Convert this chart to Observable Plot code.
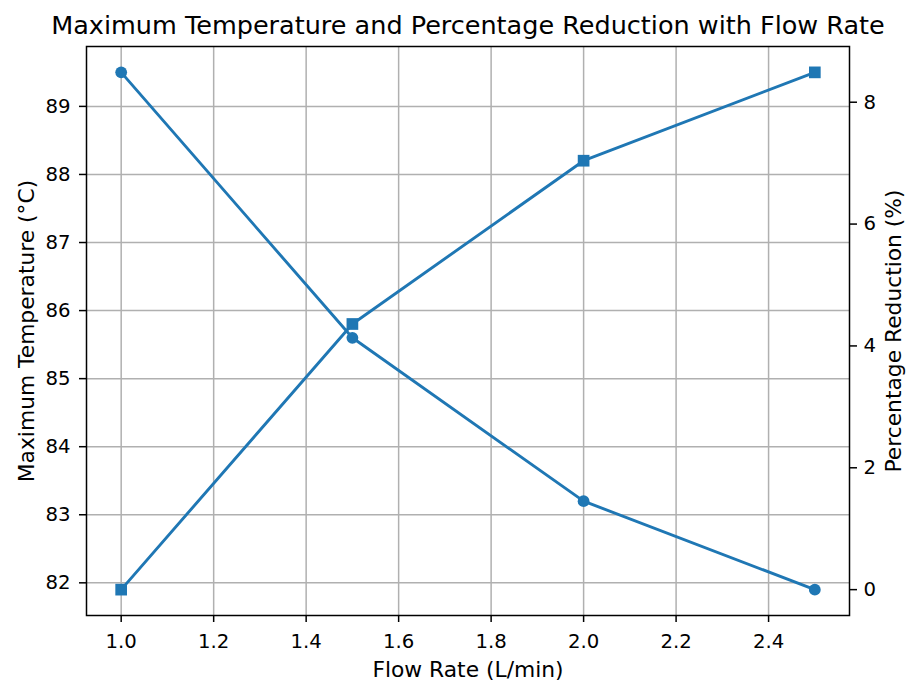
<!DOCTYPE html>
<html>
<head>
<meta charset="utf-8">
<script src="https://cdn.jsdelivr.net/npm/d3@7"></script>
<script src="https://cdn.jsdelivr.net/npm/@observablehq/plot@0.6"></script>
<style>
  html, body { margin: 0; padding: 0; background: #fff; }
  #chart { width: 908px; height: 685px; }
</style>
</head>
<body>
<div id="chart"></div>
<script>
// ---- data ----
const flowRates = [1.0, 1.5, 2.0, 2.5];               // L/min
const maxTemperature = [89.5, 85.6, 83.2, 81.9];      // °C
const percentReduction = [0, 4.36, 7.04, 8.49];       // %

const xTicks = [1.0, 1.2, 1.4, 1.6, 1.8, 2.0, 2.2, 2.4];
const leftTicks = [82, 83, 84, 85, 86, 87, 88, 89];
const rightTicks = [0, 2, 4, 6, 8];

const titleText = "Maximum Temperature and Percentage Reduction with Flow Rate";
const xLabel = "Flow Rate (L/min)";
const leftLabel = "Maximum Temperature (°C)";
const rightLabel = "Percentage Reduction (%)";

// ---- helpers ----
function padded(values) {
  const [lo, hi] = d3.extent(values);
  const m = (hi - lo) * 0.05;
  return [lo - m, hi + m];
}
const xDomain = padded(flowRates);
const tDomain = padded(maxTemperature);
const pDomain = padded(percentReduction);
// map percentage values into the temperature (left-axis) space for the twin axis
const pToT = d3.scaleLinear().domain(pDomain).range(tDomain);

const rows = flowRates.map((f, i) => ({
  flow: f,
  temp: maxTemperature[i],
  pct: percentReduction[i],
  pctT: pToT(percentReduction[i])
}));

const blue = "#1f77b4";
const fs = 19.7;
const labelFs = 21.8;
const titleFs = 25.5;

const chart = Plot.plot({
  width: 908,
  height: 685,
  marginLeft: 86,
  marginRight: 59,
  marginTop: 46,
  marginBottom: 70,
  style: { fontFamily: "DejaVu Sans", fontSize: fs + "px", color: "#000", background: "#fff" },
  x: { domain: xDomain },
  y: { domain: tDomain },
  marks: [
    Plot.gridX(xTicks, { stroke: "#b0b0b0", strokeOpacity: 1, strokeWidth: 1.5 }),
    Plot.gridY(leftTicks, { stroke: "#b0b0b0", strokeOpacity: 1, strokeWidth: 1.5 }),
    Plot.axisX(xTicks, { tickSize: 7, tickPadding: 11, strokeWidth: 1.5, tickFormat: d => d.toFixed(1), label: null, fontSize: fs }),
    Plot.axisY(leftTicks, { anchor: "left", tickSize: 7, tickPadding: 9, strokeWidth: 1.5, tickFormat: d => String(d), label: null, fontSize: fs }),
    Plot.axisY(rightTicks.map(v => pToT(v)), { anchor: "right", tickSize: 7, tickPadding: 7, strokeWidth: 1.5, tickFormat: d => String(Math.round(pToT.invert(d))), label: null, fontSize: fs }),
    // temperature series
    Plot.line(rows, { x: "flow", y: "temp", stroke: blue, strokeWidth: 2.9, strokeLinejoin: "round" }),
    Plot.dot(rows, { x: "flow", y: "temp", r: 5.9, fill: blue, stroke: "none", symbol: "circle" }),
    // percentage series (twin axis)
    Plot.line(rows, { x: "flow", y: "pctT", stroke: blue, strokeWidth: 2.9, strokeLinejoin: "round" }),
    Plot.dot(rows, { x: "flow", y: "pctT", r: 6.6, fill: blue, stroke: "none", symbol: "square" }),
    Plot.frame({ stroke: "#000", strokeWidth: 1.5 }),
    // titles / labels
    Plot.text([titleText], { frameAnchor: "top", textAnchor: "middle", lineAnchor: "bottom", dy: -12.7, fontSize: titleFs, fill: "#000" }),
    Plot.text([xLabel], { frameAnchor: "bottom", textAnchor: "middle", lineAnchor: "bottom", dy: 61.7, fontSize: labelFs, fill: "#000" }),
    Plot.text([leftLabel], { frameAnchor: "left", textAnchor: "middle", lineAnchor: "bottom", rotate: -90, dx: -53, fontSize: labelFs, fill: "#000" }),
    Plot.text([rightLabel], { frameAnchor: "right", textAnchor: "middle", lineAnchor: "bottom", rotate: -90, dx: 51, fontSize: labelFs, fill: "#000" })
  ]
});

document.getElementById("chart").appendChild(chart);
</script>
</body>
</html>
